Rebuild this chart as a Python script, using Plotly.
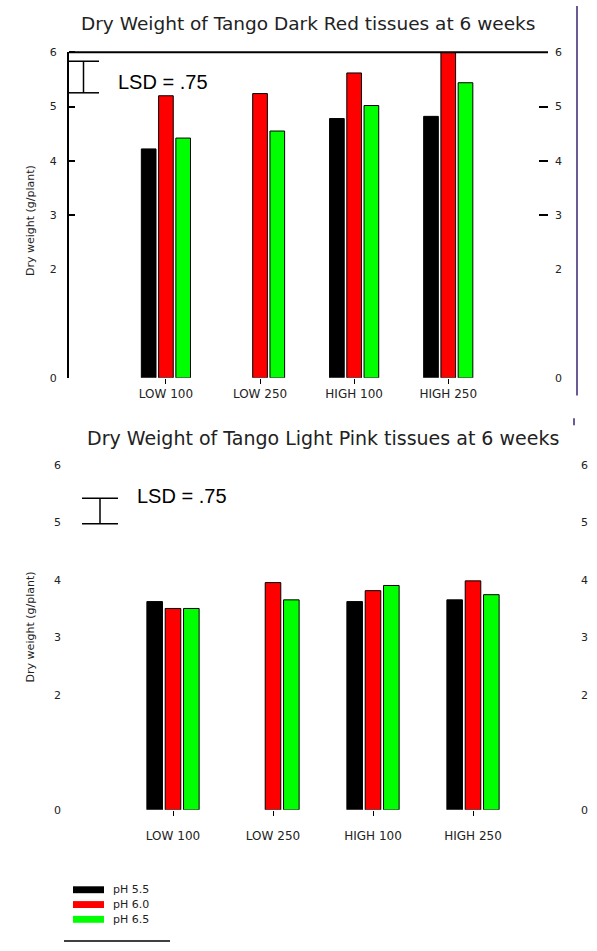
import plotly.graph_objects as go

W, H = 597, 951

categories = ["LOW 100", "LOW 250", "HIGH 100", "HIGH 250"]
series_names = ["pH 5.5", "pH 6.0", "pH 6.5"]
series_colors = ["#000000", "#ff0000", "#00ff00"]

# Dark Red (top chart), dry weight
dark_red_ph55 = [4.22, None, 4.78, 4.82]
dark_red_ph60 = [5.20, 5.24, 5.62, 6.00]
dark_red_ph65 = [4.42, 4.55, 5.02, 5.44]

# Light Pink (bottom chart), dry weight
light_pink_ph55 = [3.62, None, 3.62, 3.65]
light_pink_ph60 = [3.50, 3.95, 3.81, 3.98]
light_pink_ph65 = [3.50, 3.65, 3.90, 3.74]

y_tickvals = [0, 2, 3, 4, 5, 6]
y_ticktext = ["0", "2", "3", "4", "5", "6"]
y_tickmarks = [3, 4, 5, 6]

title_top = "Dry Weight of Tango Dark Red tissues at 6 weeks"
title_bottom = "Dry Weight of Tango Light Pink tissues at 6 weeks"
y_title = "Dry weight (g/plant)"
lsd_text = "LSD = .75"


def px(x):
    return x / W


def py(y):
    return 1 - y / H


fig = go.Figure()

top_series = [dark_red_ph55, dark_red_ph60, dark_red_ph65]
bot_series = [light_pink_ph55, light_pink_ph60, light_pink_ph65]

for name, col, vals in zip(series_names, series_colors, top_series):
    fig.add_trace(go.Bar(x=categories, y=vals, name=name, marker_color=col,
                         marker_line=dict(color="#000000", width=1),
                         xaxis="x", yaxis="y", showlegend=False, offsetgroup=name))
for name, col, vals in zip(series_names, series_colors, bot_series):
    fig.add_trace(go.Bar(x=categories, y=vals, name=name, marker_color=col,
                         marker_line=dict(color="#000000", width=1),
                         xaxis="x2", yaxis="y3", showlegend=False, offsetgroup=name))

# invisible traces to activate right axes
fig.add_trace(go.Scatter(x=categories, y=[None] * 4, xaxis="x", yaxis="y2",
                         showlegend=False, hoverinfo="skip"))
fig.add_trace(go.Scatter(x=categories, y=[None] * 4, xaxis="x2", yaxis="y4",
                         showlegend=False, hoverinfo="skip"))

FONT = "DejaVu Sans, Liberation Sans, Arial"
tick_font = dict(family=FONT, size=11, color="#222")
xtick_font = dict(family=FONT, size=12, color="#222")

minor_left = dict(tickmode="array", tickvals=y_tickmarks, ticks="inside",
                  ticklen=6, tickwidth=2, tickcolor="#000", showgrid=False)
minor_right = dict(tickmode="array", tickvals=y_tickmarks[:-1], ticks="inside",
                   ticklen=9, tickwidth=2, tickcolor="#000", showgrid=False)

fig.update_layout(
    width=W, height=H,
    margin=dict(l=0, r=0, t=0, b=0),
    paper_bgcolor="white", plot_bgcolor="white",
    barmode="group", bargap=0.45, bargroupgap=0.15,
    showlegend=False,
    font=dict(family=FONT, color="#222"),
    xaxis=dict(domain=[px(69), px(548)], anchor="y", range=[-1.03, 4.06],
               showline=False, showgrid=False, zeroline=False,
               ticks="outside", ticklen=5, tickcolor="#000", tickfont=xtick_font,
               categoryorder="array", categoryarray=categories),
    yaxis=dict(domain=[py(377), py(47)], anchor="x", range=[0, 6],
               showline=True, linecolor="#000", linewidth=2,
               showgrid=False, zeroline=False,
               tickvals=y_tickvals, ticktext=y_ticktext, ticks="",
               ticklabelstandoff=8, tickfont=tick_font, minor=minor_left),
    yaxis2=dict(overlaying="y", side="right", anchor="x", range=[0, 6],
                showline=False, showgrid=False, zeroline=False,
                tickvals=y_tickvals, ticktext=y_ticktext, ticks="",
                ticklabelstandoff=6, tickfont=tick_font, minor=minor_right),
    xaxis2=dict(domain=[px(70), px(570)], anchor="y3", range=[-1.03, 3.97],
                showline=False, showgrid=False, zeroline=False,
                ticks="outside", ticklen=5, tickcolor="#000", tickfont=xtick_font,
                ticklabelstandoff=10,
                categoryorder="array", categoryarray=categories),
    yaxis3=dict(domain=[py(815), py(465)], anchor="x2", range=[0, 6],
                showline=False, showgrid=False, zeroline=False,
                tickvals=y_tickvals, ticktext=y_ticktext, ticks="",
                ticklabelstandoff=8, tickfont=tick_font),
    yaxis4=dict(overlaying="y3", side="right", anchor="x2", range=[0, 6],
                showline=False, showgrid=False, zeroline=False,
                tickvals=y_tickvals, ticktext=y_ticktext, ticks="",
                ticklabelstandoff=10, tickfont=tick_font),
)

shapes = []
# top border line of upper chart
shapes.append(dict(type="line", xref="paper", yref="paper",
                   x0=px(69), x1=px(548), y0=py(47), y1=py(47),
                   line=dict(color="#000", width=2)))
# purple frame line on right
shapes.append(dict(type="line", xref="paper", yref="paper",
                   x0=px(577), x1=px(577), y0=py(0), y1=py(395),
                   line=dict(color="#6b5b95", width=2)))
shapes.append(dict(type="line", xref="paper", yref="paper",
                   x0=px(574), x1=px(574), y0=py(418), y1=py(425),
                   line=dict(color="#6b5b95", width=2)))


def lsd_bar(x0, x1, ytop, ybot):
    xm = (x0 + x1) / 2
    return [
        dict(type="line", xref="paper", yref="paper", x0=px(x0), x1=px(x1),
             y0=py(ytop), y1=py(ytop), line=dict(color="#000", width=1.5)),
        dict(type="line", xref="paper", yref="paper", x0=px(x0), x1=px(x1),
             y0=py(ybot), y1=py(ybot), line=dict(color="#000", width=1.5)),
        dict(type="line", xref="paper", yref="paper", x0=px(xm), x1=px(xm),
             y0=py(ytop), y1=py(ybot), line=dict(color="#000", width=1.5)),
    ]


shapes += lsd_bar(68, 99, 56, 88)
shapes += lsd_bar(82, 118, 499, 525)

# legend swatches
leg_y = [896, 911, 926]
for yy, col in zip(leg_y, series_colors):
    shapes.append(dict(type="rect", xref="paper", yref="paper",
                       x0=px(73), x1=px(104), y0=py(yy - 3.5), y1=py(yy + 3.5),
                       fillcolor=col, line=dict(width=0)))
shapes.append(dict(type="line", xref="paper", yref="paper",
                   x0=px(64), x1=px(170), y0=py(948), y1=py(948),
                   line=dict(color="#000", width=1.5)))

annotations = [
    dict(text=title_top, xref="paper", yref="paper", x=px(308), y=py(18),
         xanchor="center", yanchor="middle", showarrow=False,
         font=dict(size=18.5, color="#222")),
    dict(text=title_bottom, xref="paper", yref="paper", x=px(323), y=py(438),
         xanchor="center", yanchor="middle", showarrow=False,
         font=dict(size=19, color="#222")),
    dict(text=lsd_text, xref="paper", yref="paper", x=px(116), y=py(77),
         xanchor="left", yanchor="middle", showarrow=False,
         font=dict(family="Liberation Sans, Arial", size=20, color="#000")),
    dict(text=lsd_text, xref="paper", yref="paper", x=px(135), y=py(497),
         xanchor="left", yanchor="middle", showarrow=False,
         font=dict(family="Liberation Sans, Arial", size=20, color="#000")),
    dict(text=y_title, xref="paper", yref="paper", x=px(30), y=py(218),
         xanchor="center", yanchor="middle", textangle=-90, showarrow=False,
         font=dict(size=11, color="#222")),
    dict(text=y_title, xref="paper", yref="paper", x=px(30), y=py(630),
         xanchor="center", yanchor="middle", textangle=-90, showarrow=False,
         font=dict(size=11, color="#222")),
]
for yy, name in zip(leg_y, series_names):
    annotations.append(dict(text=name, xref="paper", yref="paper", x=px(111), y=py(yy),
                            xanchor="left", yanchor="middle", showarrow=False,
                            font=dict(size=11, color="#222")))

fig.update_layout(shapes=shapes, annotations=annotations)

fig.write_html("out.html", config={"displayModeBar": False},
               post_script="document.body.style.margin='0';document.body.style.overflow='hidden';")
